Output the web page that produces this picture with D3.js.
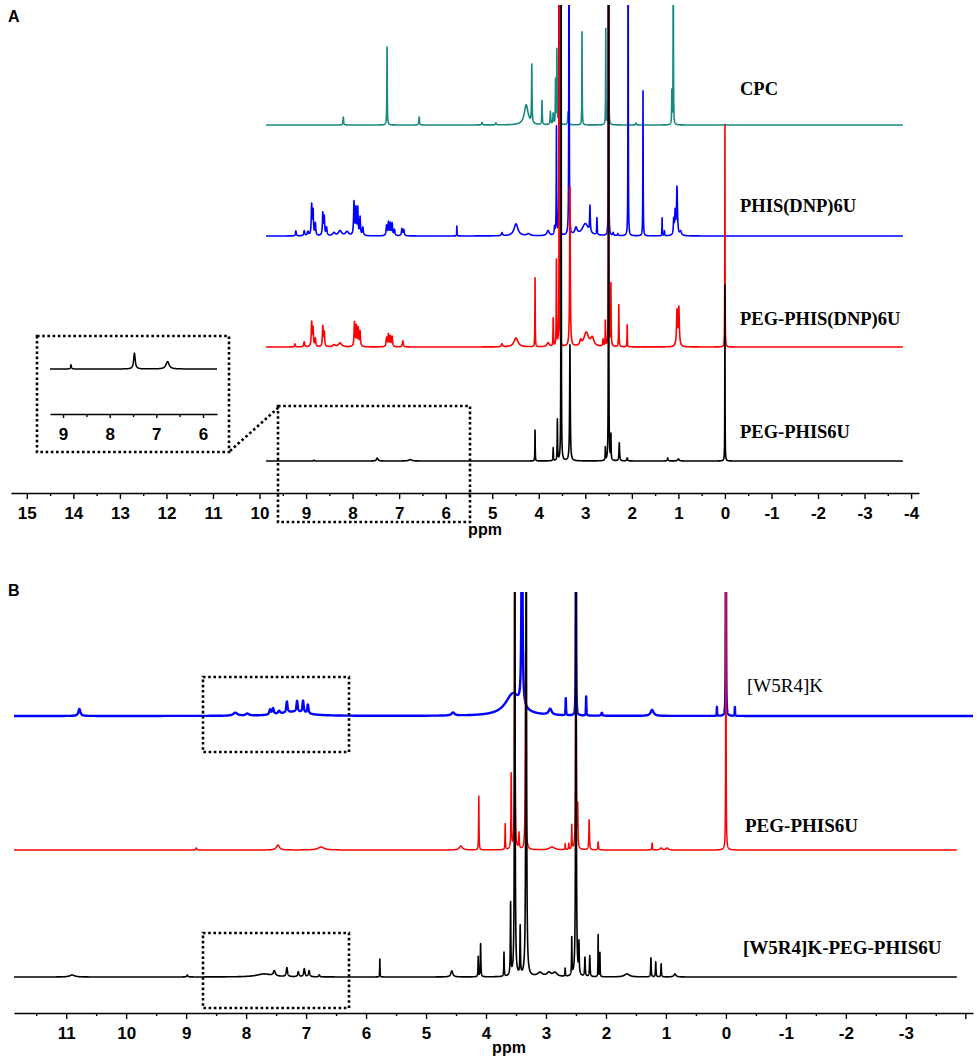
<!DOCTYPE html>
<html>
<head>
<meta charset="utf-8">
<script src="https://cdn.jsdelivr.net/npm/d3@7"></script>
<style>
  body { margin: 0; background: #fff; }
</style>
</head>
<body>
<svg id="chart" width="977" height="1057"></svg>
<script>
// peak lists: [ppm, height, half-width in ppm]
// panel A
const cpcPeaks = [
  [8.20, 8, 0.008], [7.26, 78, 0.005], [6.57, 8, 0.008], [5.22, 2.5, 0.01],
  [4.92, 2, 0.01], [4.27, 20, 0.05], [4.15, 58, 0.006], [3.93, 24, 0.006],
  [3.75, 13, 0.008], [3.69, 11, 0.008], [3.64, 44, 0.005], [3.61, 74, 0.005],
  [3.56, 300, 0.003], [3.37, 13, 0.01], [3.07, 93, 0.004], [2.56, 96, 0.004],
  [2.50, 300, 0.003], [1.91, 2, 0.01], [1.14, 33, 0.005], [1.11, 300, 0.003]
];
const phisDnpPeaks = [
  [9.22, 5, 0.01], [9.04, 5, 0.012], [8.96, 4, 0.015], [8.88, 30, 0.01],
  [8.85, 24, 0.01], [8.80, 12, 0.01], [8.64, 22, 0.01], [8.61, 18, 0.01],
  [8.56, 8, 0.012], [8.40, 3, 0.03], [8.27, 5, 0.04], [8.12, 4, 0.04],
  [7.97, 33, 0.01], [7.93, 26, 0.01], [7.89, 27, 0.01], [7.84, 18, 0.01],
  [7.78, 8, 0.012], [7.27, 10, 0.012], [7.23, 13, 0.01], [7.19, 12, 0.01],
  [7.15, 12, 0.01], [7.10, 6, 0.012], [6.94, 7, 0.012], [6.90, 6, 0.012],
  [5.76, 10, 0.004], [4.79, 3, 0.015], [4.49, 12, 0.05], [4.22, 2, 0.04],
  [3.80, 5, 0.03], [3.66, 8, 0.01], [3.62, 108, 0.005], [3.56, 500, 0.003],
  [3.35, 500, 0.004], [3.20, 7, 0.03], [3.00, 12, 0.08], [2.90, 26, 0.008],
  [2.75, 17, 0.006], [2.50, 500, 0.003], [2.40, 3, 0.01], [2.30, 2, 0.01],
  [2.08, 500, 0.003], [1.76, 145, 0.004], [1.35, 18, 0.004], [1.30, 5, 0.006],
  [1.10, 15, 0.01], [1.07, 22, 0.01], [1.03, 48, 0.012], [0.95, 4, 0.02]
];
const pegPhisDnpPeaks = [
  [9.24, 3, 0.01], [9.04, 5, 0.012], [8.88, 24, 0.01], [8.85, 18, 0.01],
  [8.80, 8, 0.01], [8.64, 20, 0.01], [8.61, 14, 0.01], [8.40, 2, 0.03],
  [8.27, 4, 0.04], [7.96, 24, 0.01], [7.92, 20, 0.01], [7.88, 18, 0.01],
  [7.84, 15, 0.01], [7.27, 9, 0.012], [7.23, 12, 0.01], [7.19, 10, 0.01],
  [7.15, 10, 0.01], [6.92, 6, 0.012], [4.79, 3, 0.015], [4.49, 9, 0.05],
  [4.08, 69, 0.004], [3.80, 4, 0.03], [3.69, 28, 0.005], [3.62, 86, 0.005],
  [3.56, 600, 0.003], [3.33, 160, 0.008], [3.10, 5, 0.02], [2.98, 14, 0.06],
  [2.85, 8, 0.04], [2.62, 7, 0.008], [2.57, 25, 0.004], [2.50, 600, 0.003],
  [2.45, 62, 0.005], [2.28, 42, 0.005], [2.10, 22, 0.004], [1.03, 35, 0.012],
  [0.99, 38, 0.012], [0.00, 222, 0.003]
];
const pegPhisPeaks = [
  [8.83, 0.8, 0.01], [7.47, 3, 0.02], [6.76, 1.4, 0.04], [4.08, 31, 0.004],
  [3.69, 13, 0.005], [3.60, 41, 0.005], [3.52, 800, 0.003], [3.33, 116, 0.008],
  [2.57, 13, 0.004], [2.50, 800, 0.003], [2.45, 25, 0.005], [2.27, 18, 0.008],
  [2.10, 3, 0.01], [1.23, 3, 0.01], [1.00, 2, 0.02], [0.00, 176, 0.003]
];
// panel B
const w5r4kPeaks = [
  [10.78, 7, 0.02], [8.18, 3, 0.04], [7.98, 2, 0.03], [7.60, 5, 0.015],
  [7.55, 6, 0.015], [7.45, 3, 0.02], [7.32, 11, 0.012], [7.20, 4, 0.25],
  [7.15, 11, 0.012], [7.05, 12, 0.012], [6.97, 9, 0.012], [4.55, 3, 0.03],
  [3.55, 22, 0.15], [3.40, 300, 0.008], [2.93, 6, 0.03],
  [2.67, 17, 0.004], [2.50, 300, 0.003], [2.33, 19, 0.004], [2.07, 3, 0.01],
  [1.23, 6, 0.03], [0.15, 9, 0.003], [0.00, 300, 0.003], [-0.15, 9, 0.003]
];
const pegPhisBPeaks = [
  [8.83, 2, 0.01], [7.47, 5, 0.03], [6.75, 3, 0.06], [4.42, 4, 0.03],
  [4.12, 54, 0.004], [3.68, 26, 0.004], [3.58, 75, 0.005], [3.52, 450, 0.004],
  [3.45, 16, 0.006], [3.34, 198, 0.006], [2.90, 3, 0.05], [2.68, 6, 0.004],
  [2.62, 6, 0.004], [2.57, 24, 0.004], [2.50, 450, 0.004], [2.47, 40, 0.004],
  [2.28, 30, 0.006], [2.13, 8, 0.006], [1.23, 7, 0.005], [1.08, 2, 0.02],
  [0.98, 2, 0.02], [0.00, 400, 0.003]
];
const conjugatePeaks = [
  [10.90, 2, 0.05], [8.98, 2, 0.01], [7.70, 3, 0.15], [7.53, 5, 0.02],
  [7.32, 9, 0.012], [7.13, 5, 0.012], [7.03, 8, 0.012], [6.95, 6, 0.012],
  [6.78, 2, 0.01], [5.77, 18, 0.003], [4.57, 6, 0.02], [4.13, 20, 0.004],
  [4.09, 33, 0.005], [3.70, 24, 0.004], [3.59, 72, 0.005], [3.52, 600, 0.005],
  [3.43, 48, 0.005], [3.33, 600, 0.006], [3.10, 4, 0.05], [2.95, 4, 0.04],
  [2.85, 4, 0.04], [2.68, 8, 0.004], [2.57, 37, 0.004], [2.50, 600, 0.005],
  [2.45, 31, 0.005], [2.35, 19, 0.006], [2.27, 21, 0.006], [2.13, 42, 0.003],
  [2.10, 24, 0.003], [1.65, 3, 0.05], [1.25, 19, 0.005], [1.17, 15, 0.005],
  [1.08, 13, 0.005], [0.85, 3, 0.02]
];

const ticksA = [15, 14, 13, 12, 11, 10, 9, 8, 7, 6, 5, 4, 3, 2, 1, 0, -1, -2, -3, -4];
const ticksB = [11, 10, 9, 8, 7, 6, 5, 4, 3, 2, 1, 0, -1, -2, -3];
const ticksInset = [9, 8, 7, 6];
const labelsA = ["CPC", "PHIS(DNP)6U", "PEG-PHIS(DNP)6U", "PEG-PHIS6U"];
const labelsB = ["[W5R4]K", "PEG-PHIS6U", "[W5R4]K-PEG-PHIS6U"];

var svg = d3.select("#chart");
var sans = "'Liberation Sans', Arial, sans-serif";
var serif = "'Liberation Serif', 'Times New Roman', serif";

// sum of lorentzian lines on a 0.001 ppm grid
function spectrum(peaks, hi, lo) {
  var pts = [];
  for (var i = Math.round(hi * 1000); i >= Math.round(lo * 1000); i--) {
    var p = i / 1000, v = 0;
    peaks.forEach(function (pk) {
      var w2 = pk[2] * pk[2];
      v += pk[1] * w2 / (w2 + (p - pk[0]) * (p - pk[0]));
    });
    pts.push([p, v]);
  }
  return pts;
}

function drawTrace(g, peaks, x, base, scale, hi, lo, color, width) {
  var y = d3.scaleLinear().domain([0, 100]).range([base, base - 100 * scale]);
  var line = d3.line().x(d => x(d[0])).y(d => y(d[1]));
  g.append("path")
    .datum(spectrum(peaks, hi, lo))
    .attr("d", line)
    .attr("fill", "none")
    .attr("stroke", color)
    .attr("stroke-width", width)
    .attr("stroke-linejoin", "round");
}

function drawAxis(x, ypos, major, minor, fontSize, tickLen) {
  var g = svg.append("g").attr("transform", `translate(0,${ypos})`);
  g.call(d3.axisBottom(x).tickValues(major).tickSize(tickLen).tickSizeOuter(0)
      .tickFormat(d => String(d)));
  g.select(".domain").attr("stroke-width", 1.6);
  g.selectAll(".tick line").attr("stroke-width", 1.4);
  g.selectAll("text")
    .attr("y", 26).attr("dy", 0)
    .attr("font-family", sans).attr("font-weight", "bold")
    .attr("font-size", fontSize).attr("fill", "#000");
  var gm = svg.append("g").attr("transform", `translate(0,${ypos})`);
  gm.call(d3.axisBottom(x).tickValues(minor).tickSize(3).tickSizeOuter(0).tickFormat(""));
  gm.select(".domain").remove();
  gm.selectAll(".tick line").attr("stroke-width", 1.4);
}

function dottedRect(x0, y0, x1, y1) {
  svg.append("rect")
    .attr("x", x0).attr("y", y0).attr("width", x1 - x0).attr("height", y1 - y0)
    .attr("fill", "none").attr("stroke", "#000")
    .attr("stroke-width", 2.6).attr("stroke-dasharray", "2.6,2.6");
}

var defs = svg.append("defs");
defs.append("clipPath").attr("id", "clipA")
  .append("rect").attr("x", 0).attr("y", 5).attr("width", 977).attr("height", 490);
defs.append("clipPath").attr("id", "clipB")
  .append("rect").attr("x", 0).attr("y", 592).attr("width", 977).attr("height", 420);

// ---------- panel A ----------
var xA = d3.scaleLinear().domain([15.34, -4.17]).range([11, 919]);
var gA = svg.append("g").attr("clip-path", "url(#clipA)");
var hiA = (725 - 266) / 46.55, loA = (725 - 903) / 46.55;
drawTrace(gA, cpcPeaks, xA, 125, 1, hiA, loA, "#178a80", 1.6);
drawTrace(gA, phisDnpPeaks, xA, 236, 1, hiA, loA, "#0000ff", 1.6);
drawTrace(gA, pegPhisDnpPeaks, xA, 347, 1, hiA, loA, "#ff0000", 1.6);
drawTrace(gA, pegPhisPeaks, xA, 461, 1, hiA, loA, "#000000", 1.6);

drawAxis(xA, 493, ticksA, d3.range(14.5, -4, -1), 17, 6);

svg.append("text").text("ppm").attr("x", 485).attr("y", 535)
  .attr("text-anchor", "middle").attr("font-family", sans)
  .attr("font-weight", "bold").attr("font-size", 16);

[95, 212, 325, 438].forEach(function (yy, i) {
  svg.append("text").text(labelsA[i]).attr("x", 740).attr("y", yy)
    .attr("font-family", serif).attr("font-weight", "bold").attr("font-size", 18.5);
});

// inset with the zoomed aromatic region
var xIn = d3.scaleLinear().domain([9.28, 5.7]).range([50, 217]);
drawTrace(svg, pegPhisPeaks, xIn, 369, 5.3, 9.28, 5.7, "#000000", 1.5);
drawAxis(xIn, 414, ticksInset, [8.5, 7.5, 6.5], 17, 4);
dottedRect(37, 336, 229, 452);
dottedRect(278, 406, 470, 522);
svg.append("line").attr("x1", 230).attr("y1", 451).attr("x2", 278).attr("y2", 408)
  .attr("stroke", "#000").attr("stroke-width", 2.6).attr("stroke-dasharray", "2.6,2.6");

svg.append("text").text("A").attr("x", 8).attr("y", 22)
  .attr("font-family", sans).attr("font-weight", "bold").attr("font-size", 16);

// ---------- panel B ----------
var xB = d3.scaleLinear().domain([11.87, -4.12]).range([14, 973]);
var gB = svg.append("g").attr("clip-path", "url(#clipB)");
drawTrace(gB, w5r4kPeaks, xB, 716, 1, 11.87, -4.12, "#0000ff", 2.4);
drawTrace(gB, pegPhisBPeaks, xB, 850, 1, 11.87, -3.85, "#ff0000", 1.5);
drawTrace(gB, conjugatePeaks, xB, 977, 1, 11.87, -3.85, "#000000", 1.6);

drawAxis(xB, 1013, ticksB, d3.range(11.5, -4.5, -1), 17, 6);
// unlabeled end tick at -4
svg.append("line").attr("x1", xB(-4)).attr("x2", xB(-4)).attr("y1", 1013).attr("y2", 1019)
  .attr("stroke", "#000").attr("stroke-width", 1.4);

svg.append("text").text("ppm").attr("x", 509).attr("y", 1053)
  .attr("text-anchor", "middle").attr("font-family", sans)
  .attr("font-weight", "bold").attr("font-size", 16);

svg.append("text").text(labelsB[0]).attr("x", 747).attr("y", 692)
  .attr("font-family", serif).attr("font-size", 19);
svg.append("text").text(labelsB[1]).attr("x", 745).attr("y", 832)
  .attr("font-family", serif).attr("font-weight", "bold").attr("font-size", 19);
svg.append("text").text(labelsB[2]).attr("x", 743).attr("y", 954)
  .attr("font-family", serif).attr("font-weight", "bold").attr("font-size", 19);

dottedRect(203, 677, 349, 752);
dottedRect(203, 933, 349, 1008);

svg.append("text").text("B").attr("x", 8).attr("y", 596)
  .attr("font-family", sans).attr("font-weight", "bold").attr("font-size", 16);
</script>
</body>
</html>
